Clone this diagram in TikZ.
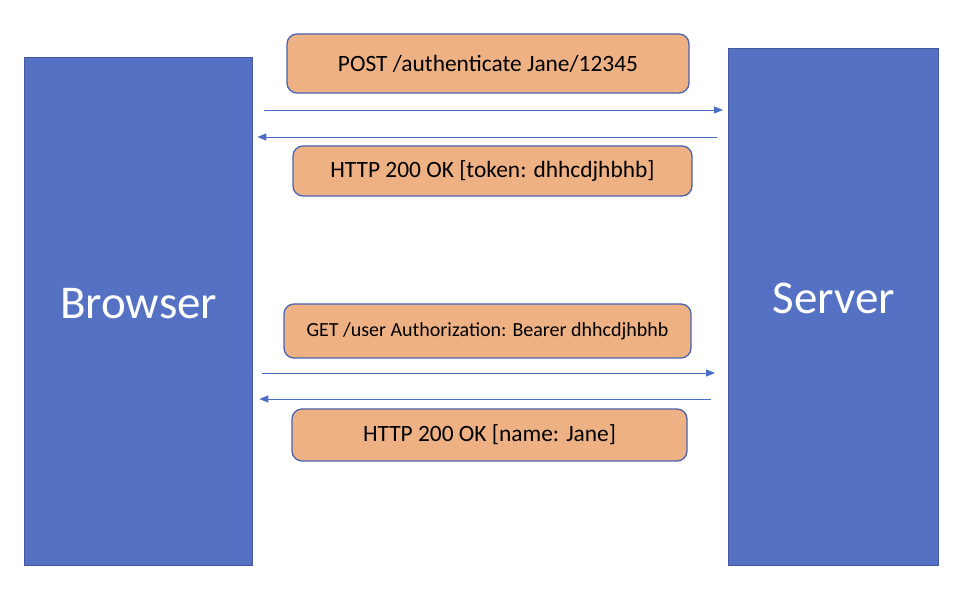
\documentclass[tikz,border=0pt]{standalone}
\usepackage{fontspec}
\setmainfont{Carlito}
\usetikzlibrary{arrows.meta, positioning}
\definecolor{peerblue}{HTML}{5471C4}
\definecolor{peeredge}{HTML}{42599F}
\definecolor{msgfill}{HTML}{EDB183}
\definecolor{msgedge}{HTML}{4A62AE}
\definecolor{flowblue}{HTML}{4C6DC6}

\begin{document}
\begin{tikzpicture}[
    x=1pt, y=-1pt,
    peer/.style={draw=peeredge, fill=peerblue, line width=1.3pt,
                 anchor=north west, inner sep=0pt, text=white,
                 text depth=17pt, font=\fontsize{47}{56}\selectfont},
    msg/.style={draw=msgedge, fill=msgfill, line width=1.3pt,
                rounded corners=10pt, inner sep=0pt,
                font=\fontsize{23.4}{28}\selectfont},
    flow/.style={draw=flowblue, line width=0.9pt,
                 -{Triangle[length=9pt, width=7pt]}}
  ]
  \useasboundingbox (0,0) rectangle (962,593);

  % client and server
  \node[peer, minimum width=228pt, minimum height=508pt] (browser)
    at (24,57) {Browser};
  \node[peer, minimum width=210pt, minimum height=517pt] (server)
    at (728,48) {Server};

  % messages
  \node[msg, minimum width=402pt, minimum height=59pt] (post)
    at (488,63.5) {POST /authenticate Jane/12345};
  \node[msg, minimum width=399pt, minimum height=50pt] (token)
    at (492.5,171) {HTTP 200 OK [token: dhhcdjhbhb]};
  \node[msg, minimum width=407pt, minimum height=54pt,
        font=\fontsize{20}{24}\selectfont] (getuser)
    at (487.5,331) {GET /user Authorization: Bearer dhhcdjhbhb};
  \node[msg, minimum width=395pt, minimum height=52pt] (name)
    at (489.5,435) {HTTP 200 OK [name: Jane]};

  % arrow levels
  \coordinate (req1) at (0,110);
  \coordinate (res1) at (0,137);
  \coordinate (req2) at (0,373);
  \coordinate (res2) at (0,399);

  \draw[flow, shorten <=11pt, shorten >=5pt] (browser.east |- req1) -- (server.west |- req1);
  \draw[flow, shorten <=11pt, shorten >=4pt] (server.west |- res1) -- (browser.east |- res1);
  \draw[flow, shorten <=9pt, shorten >=13pt] (browser.east |- req2) -- (server.west |- req2);
  \draw[flow, shorten <=17pt, shorten >=6pt] (server.west |- res2) -- (browser.east |- res2);
\end{tikzpicture}
\end{document}
